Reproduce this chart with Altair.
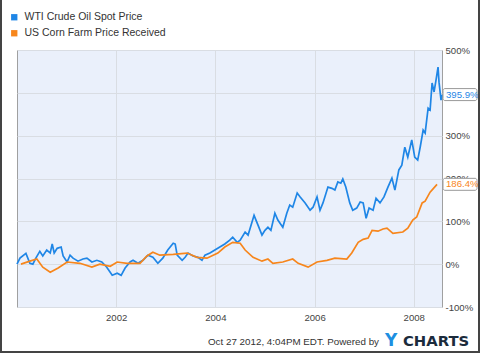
import altair as alt
import pandas as pd

# ---- data (percent change since Jan 2000, x in decimal years) ----
oil_years = [2000.00, 2000.06, 2000.18, 2000.26, 2000.32, 2000.38, 2000.46, 2000.52, 2000.60, 2000.67,
             2000.71, 2000.75, 2000.81, 2000.89, 2000.93, 2001.01, 2001.07, 2001.13, 2001.23, 2001.33,
             2001.41, 2001.51, 2001.61, 2001.71, 2001.81, 2001.92, 2002.02, 2002.10, 2002.18, 2002.28,
             2002.34, 2002.44, 2002.54, 2002.64, 2002.74, 2002.84, 2002.94, 2003.04, 2003.15, 2003.19,
             2003.23, 2003.33, 2003.39, 2003.45, 2003.55, 2003.65, 2003.73, 2003.79, 2003.89, 2003.99,
             2004.09, 2004.19, 2004.29, 2004.35, 2004.44, 2004.50, 2004.60, 2004.66, 2004.78, 2004.86,
             2004.94, 2005.00, 2005.06, 2005.12, 2005.20, 2005.26, 2005.36, 2005.44, 2005.50, 2005.56,
             2005.65, 2005.71, 2005.81, 2005.91, 2005.97, 2006.05, 2006.11, 2006.17, 2006.27, 2006.35,
             2006.41, 2006.47, 2006.53, 2006.57, 2006.63, 2006.71, 2006.77, 2006.85, 2006.92, 2006.98,
             2007.04, 2007.10, 2007.18, 2007.24, 2007.32, 2007.40, 2007.48, 2007.56, 2007.62, 2007.70,
             2007.76, 2007.82, 2007.88, 2007.96, 2008.02, 2008.08, 2008.13, 2008.19, 2008.23, 2008.29,
             2008.33, 2008.37, 2008.41, 2008.45, 2008.49, 2008.51, 2008.55, 2008.57]
oil_pct = [0, 14, 25, 2, 0, 14, 30, 19, 33, 26,
           47, 26, 37, 40, 19, 5, 21, 14, 7, 12,
           14, 5, 9, 5, -7, -26, -21, -26, -9, 5,
           9, 2, 9, 21, 16, 2, 14, 33, 49, 47,
           21, 9, 16, 26, 19, 16, 9, 21, 26, 33,
           40, 47, 56, 63, 51, 56, 75, 68, 114, 91,
           68, 79, 86, 79, 119, 103, 86, 119, 138, 133,
           166, 157, 143, 126, 133, 157, 126, 143, 180, 177,
           173, 192, 189, 199, 180, 143, 126, 131, 145, 143,
           107, 131, 126, 154, 143, 157, 180, 201, 173, 220,
           231, 273, 250, 290, 250, 243, 273, 313, 306, 364,
           360, 423, 402, 430, 460, 425, 383, 395.9]

corn_years = [2000.08, 2000.26, 2000.40, 2000.52, 2000.67, 2000.83, 2001.01, 2001.27, 2001.51, 2001.67,
              2001.88, 2002.02, 2002.22, 2002.48, 2002.62, 2002.74, 2002.88, 2003.15, 2003.43, 2003.63,
              2003.83, 2004.05, 2004.19, 2004.35, 2004.50, 2004.60, 2004.76, 2004.94, 2005.06, 2005.16,
              2005.36, 2005.56, 2005.67, 2005.87, 2006.05, 2006.25, 2006.41, 2006.65, 2006.75, 2006.88,
              2006.98, 2007.08, 2007.16, 2007.28, 2007.38, 2007.46, 2007.58, 2007.78, 2007.88, 2007.98,
              2008.06, 2008.17, 2008.23, 2008.33, 2008.47]
corn_pct = [0, 7, 12, -7, -19, -9, 5, 2, -7, 0,
            -5, 5, 2, 2, 19, 28, 21, 23, 26, 16,
            14, 26, 40, 51, 49, 33, 16, 7, 12, 2,
            5, 12, 2, -7, 5, 9, 14, 12, 26, 51,
            58, 61, 79, 77, 82, 84, 72, 75, 84, 103,
            110, 143, 147, 168, 186.4]

series_names = ["WTI Crude Oil Spot Price", "US Corn Farm Price Received"]
series_colors = ["#1F86E6", "#F7861C"]
x_ticks = [2002, 2004, 2006, 2008]
y_ticks = [-100, 0, 100, 200, 300, 400, 500]
footer_text = "Oct 27 2012, 4:04PM EDT.  Powered by"

FONT = "Liberation Sans"

df = pd.concat([
    pd.DataFrame({"series": series_names[0], "year": oil_years, "pct": oil_pct}),
    pd.DataFrame({"series": series_names[1], "year": corn_years, "pct": corn_pct}),
], ignore_index=True)

last = pd.DataFrame({
    "series": series_names,
    "pct": [oil_pct[-1], corn_pct[-1]],
})
last["label"] = [f"{v:.1f}%" for v in last["pct"]]

color_scale = alt.Scale(domain=series_names, range=series_colors)
x_enc = alt.X("year:Q", scale=alt.Scale(domain=[2000.0, 2008.57], nice=False, zero=False),
              axis=alt.Axis(values=x_ticks, format="d", title=None, ticks=False, domain=False,
                            labelFont=FONT, labelFontSize=9.6, labelColor="#444", labelPadding=5,
                            gridColor="#D9DDE3", labelFlush=False))
y_scale = alt.Scale(domain=[-100, 500], nice=False, zero=False)
# the 400% label sits fully under the 395.9% callout in the reference
y_enc = alt.Y("pct:Q", scale=y_scale,
              axis=alt.Axis(values=y_ticks, orient="right", title=None, ticks=False, domain=False,
                            labelExpr="datum.value == 400 ? '' : datum.value + '%'", labelFont=FONT,
                            labelFontSize=9.6, labelColor="#444", labelPadding=3, gridColor="#D9DDE3",
                            labelFlush=False))

legend = alt.Legend(title=None, orient="none", legendX=-8, legendY=-38, symbolType="square",
                    symbolSize=40, symbolStrokeWidth=0, labelFont=FONT, labelFontSize=10.5,
                    labelColor="#333", rowPadding=5, labelOffset=5, padding=0)

legend_layer = alt.Chart(df).transform_filter("false").mark_point(
    shape="square", filled=True, opacity=1, size=40
).encode(x=x_enc, y=y_enc, color=alt.Color("series:N", scale=color_scale, legend=legend))

lines = alt.Chart(df).mark_line(strokeWidth=1.7).encode(
    x=x_enc, y=y_enc,
    color=alt.Color("series:N", scale=color_scale, legend=legend),
    order=alt.Order("year:Q"),
)

boxes = alt.Chart(last).transform_calculate(
    lo="datum.pct - 14", hi="datum.pct + 14"
).mark_rect(fill="white", stroke="#9A9A9A", strokeWidth=1, cornerRadius=2).encode(
    x=alt.value(426), x2=alt.value(460),
    y=alt.Y("lo:Q", scale=y_scale), y2="hi:Q",
)

box_text = alt.Chart(last).mark_text(align="left", baseline="middle", font=FONT, fontSize=9.6).encode(
    x=alt.value(429), y=alt.Y("pct:Q", scale=y_scale), text="label:N",
    color=alt.Color("series:N", scale=color_scale, legend=None),
)

footer = alt.Chart(pd.DataFrame({"t": [footer_text]})).mark_text(
    align="right", baseline="middle", font=FONT, fontSize=9.8, color="#333"
).encode(x=alt.value(362), y=alt.value(292), text="t:N")

logo_y = alt.Chart(pd.DataFrame({"t": ["Y"]})).mark_text(
    align="left", baseline="middle", font="DejaVu Sans", fontWeight="bold", fontSize=17, color="#1D8FE1"
).encode(x=alt.value(368), y=alt.value(291), text="t:N")

logo_rest = alt.Chart(pd.DataFrame({"t": ["CHARTS"]})).mark_text(
    align="left", baseline="middle", font="DejaVu Sans", fontWeight="bold", fontSize=14.8, color="#1B2B3C"
).encode(x=alt.value(386), y=alt.value(292), text="t:N")

frame = alt.Chart(pd.DataFrame({"t": [0]})).mark_rect(
    fill=None, stroke="#444", strokeWidth=2
).encode(x=alt.value(-16), x2=alt.value(462), y=alt.value(-60), y2=alt.value(302))

chart = alt.layer(legend_layer, lines, boxes, box_text, footer, logo_y, logo_rest, frame).properties(
    width=425, height=257,
    autosize=alt.AutoSizeParams(type="none"),
    padding={"left": 17, "top": 50, "right": 38, "bottom": 46},
    background="white",
).configure_view(
    fill="#EAF0FB", stroke="#A0A0A0", strokeWidth=1
)

chart.save("out.html", embed_options={"renderer": "svg", "actions": False})
